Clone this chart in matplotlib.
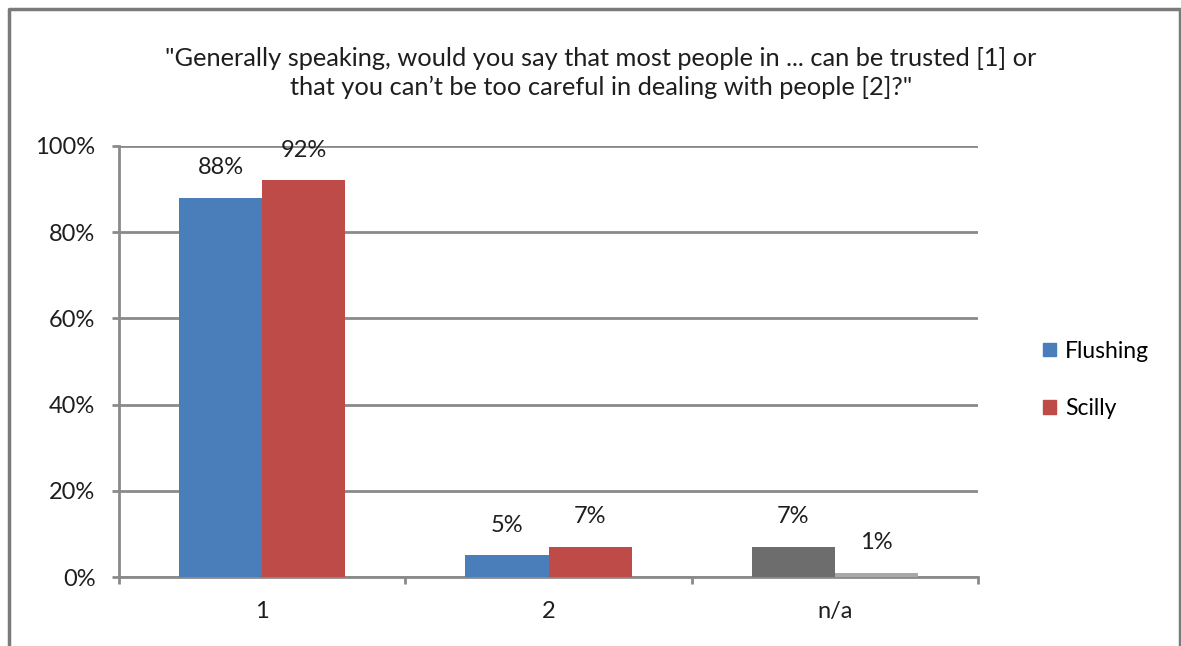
import matplotlib.pyplot as plt
import matplotlib.patches as mpatches
import numpy as np

plt.rcParams['font.family'] = ['Lato', 'DejaVu Sans']

categories = ["1", "2", "n/a"]
flushing = [0.88, 0.05, 0.07]
scilly = [0.92, 0.07, 0.01]
flushing_labels = ["88%", "5%", "7%"]
scilly_labels = ["92%", "7%", "1%"]

blue = '#4a7ebb'
red = '#be4b48'
grid_c = '#8a8a8a'
text_c = '#1e1e1e'

# last group has no country split, drawn in greys
col_f = [blue, blue, '#6d6d6d']
col_s = [red, red, '#a8a8a8']

fig = plt.figure(figsize=(11.81, 6.46), dpi=100)
ax = fig.add_axes([0.1008, 0.1068, 0.7273, 0.6672])

x = np.arange(len(categories))
w = 0.29
ax.bar(x - w / 2, flushing, w, color=col_f, zorder=3)
ax.bar(x + w / 2, scilly, w, color=col_s, zorder=3)

for i in range(len(categories)):
    ax.text(x[i] - w / 2, flushing[i] + 0.045, flushing_labels[i], ha='center',
            va='bottom', fontsize=17, color=text_c)
    ax.text(x[i] + w / 2, scilly[i] + 0.045, scilly_labels[i], ha='center',
            va='bottom', fontsize=17, color=text_c)

ax.set_xlim(-0.5, 2.5)
ax.set_ylim(0, 1)
ax.set_yticks(np.arange(0, 1.01, 0.2))
ax.set_yticklabels(["0%", "20%", "40%", "60%", "80%", "100%"])
ax.set_xticks(x)
ax.set_xticklabels(categories)
ax.set_xticks([-0.5, 0.5, 1.5, 2.5], minor=True)
ax.tick_params(axis='x', which='major', length=0, pad=17, labelsize=17, labelcolor=text_c)
ax.tick_params(axis='x', which='minor', length=5, width=2, color=grid_c)
ax.tick_params(axis='y', length=5, width=2, color=grid_c, pad=12, labelsize=17, labelcolor=text_c)

ax.grid(axis='y', color=grid_c, linewidth=2, zorder=0)
for s in ['top', 'right']:
    ax.spines[s].set_visible(False)
for s in ['left', 'bottom']:
    ax.spines[s].set_color(grid_c)
    ax.spines[s].set_linewidth(2)

fig.text(0.509, 0.887, "\"Generally speaking, would you say that most people in ... can be trusted [1] or\n"
         "that you can\u2019t be too careful in dealing with people [2]?\"",
         ha='center', va='center', fontsize=18.3, color=text_c, linespacing=1.32)

handles = [mpatches.Patch(color=blue, label="Flushing"),
           mpatches.Patch(color=red, label="Scilly")]
fig.legend(handles=handles, loc='center left', bbox_to_anchor=(0.866, 0.412),
           frameon=False, fontsize=16.5, handlelength=0.55, handleheight=0.55,
           handletextpad=0.4, labelspacing=1.6)

# outer frame
frame = plt.Line2D([0.008, 0.008, 0.999, 0.999], [0.0, 0.986, 0.986, 0.0],
                   transform=fig.transFigure, color='#7a7a7a', linewidth=2.5)
fig.add_artist(frame)

fig.savefig("out.png", dpi=100)
